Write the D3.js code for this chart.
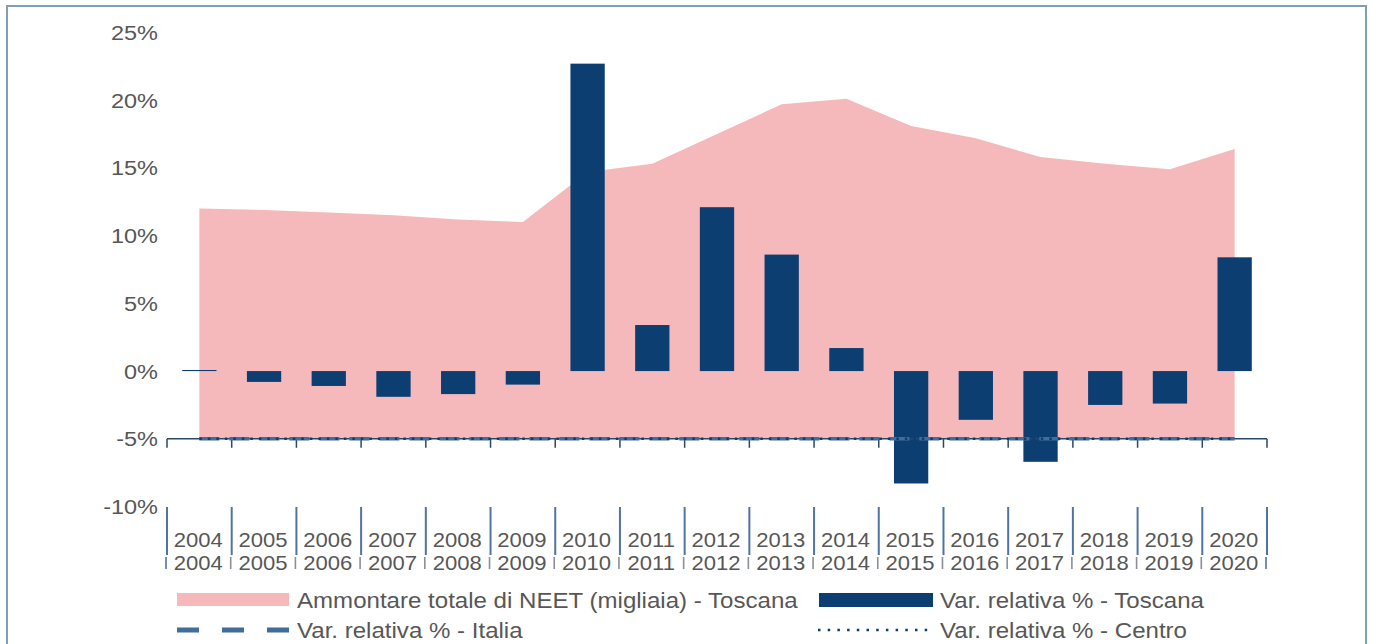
<!doctype html>
<html lang="it">
<head>
    <meta charset="utf-8">
    <title>NEET Toscana</title>
    <style>
        body { margin: 0; background: #ffffff; }
        svg text { font-family: "Liberation Sans", Arial, sans-serif; }
    </style>
</head>
<body>
<svg width="1373" height="644" id="chart"></svg>

<script src="https://cdn.jsdelivr.net/npm/d3@7"></script>
<script>
    // valori
    const years = ["2004", "2005", "2006", "2007", "2008", "2009", "2010", "2011", "2012",
        "2013", "2014", "2015", "2016", "2017", "2018", "2019", "2020"];
    const neetToscana = [12.0, 11.9, 11.7, 11.5, 11.2, 11.0, 14.7, 15.3, 17.5, 19.7, 20.1, 18.1, 17.2, 15.8, 15.3, 14.9, 16.4];
    const varToscana = [0.08, -0.8, -1.1, -1.9, -1.7, -1.0, 22.7, 3.4, 12.1, 8.6, 1.7, -8.3, -3.6, -6.7, -2.5, -2.4, 8.4];
    const varItalia = [-5, -5, -5, -5, -5, -5, -5, -5, -5, -5, -5, -5, -5, -5, -5, -5, -5];
    const varCentro = [-5, -5, -5, -5, -5, -5, -5, -5, -5, -5, -5, -5, -5, -5, -5, -5, -5];
    const yTicks = [-10, -5, 0, 5, 10, 15, 20, 25];

    const pink = "#f5b9bb";
    const navy = "#0c3e72";
    const steel = "#416d99";
    const grey = "#575757";

    const svg = d3.select("#chart");

    // testo un po' allargato come nel grafico originale
    function label(g, px, py, txt, size, sx, anchor) {
        return g.append("text")
            .attr("transform", "translate(" + px + "," + py + ") scale(" + sx + ",1)")
            .attr("text-anchor", anchor || "start")
            .style("font-size", size + "px")
            .style("fill", grey)
            .text(txt);
    }

    // cornice
    svg.append("rect")
        .attr("x", 7)
        .attr("y", 6)
        .attr("width", 1359)
        .attr("height", 660)
        .attr("fill", "#ffffff")
        .attr("stroke", "#7f9fb4")
        .attr("stroke-width", 2);

    const x = d3.scaleBand()
        .domain(years)
        .range([167, 1267])
        .padding(0);

    const y = d3.scaleLinear()
        .domain([-10, 25])
        .range([506.5, 32.5]);

    const cx = d => x(d) + x.bandwidth() / 2;
    const barW = x.bandwidth() * 0.53;
    const base = y(-5);

    // area NEET
    const area = d3.area()
        .x((d, i) => cx(years[i]))
        .y0(base)
        .y1(d => y(d));

    svg.append("path")
        .datum(neetToscana)
        .attr("fill", pink)
        .attr("d", area);

    // barre var. Toscana
    svg.append("g")
        .selectAll("rect")
        .data(varToscana)
        .enter().append("rect")
        .attr("x", (d, i) => cx(years[i]) - barW / 2)
        .attr("y", d => y(Math.max(0, d)))
        .attr("width", barW)
        .attr("height", d => Math.abs(y(d) - y(0)))
        .attr("fill", navy);

    // asse categorie a -5%
    const gx = svg.append("g")
        .attr("transform", "translate(0," + base + ")");
    gx.append("line")
        .attr("x1", 167).attr("x2", 1267)
        .attr("stroke", "#2b4766")
        .attr("stroke-width", 1.5);
    gx.selectAll(".tk")
        .data(years.concat(["end"]))
        .enter().append("line")
        .attr("class", "tk")
        .attr("x1", (d, i) => 167 + i * x.bandwidth())
        .attr("x2", (d, i) => 167 + i * x.bandwidth())
        .attr("y1", 0).attr("y2", 9)
        .attr("stroke", "#2b4766")
        .attr("stroke-width", 1.5);

    // linee Italia e Centro
    const line = d3.line()
        .x((d, i) => cx(years[i]))
        .y(d => y(d));

    svg.append("path")
        .datum(varItalia)
        .attr("fill", "none")
        .attr("stroke", steel)
        .attr("stroke-width", 3.5)
        .attr("stroke-dasharray", "20,10")
        .attr("d", line);

    svg.append("path")
        .datum(varCentro)
        .attr("fill", "none")
        .attr("stroke", navy)
        .attr("stroke-width", 2.5)
        .attr("stroke-dasharray", "2.5,6")
        .attr("d", line);

    // asse y
    const gy = svg.append("g");
    yTicks.forEach(t => {
        label(gy, 158, y(t) + 7.5, t + "%", 21, 1.12, "end");
    });

    // etichette a due livelli
    const sep = svg.append("g");
    sep.selectAll(".up")
        .data(years.concat(["end"]))
        .enter().append("line")
        .attr("x1", (d, i) => 167 + i * x.bandwidth())
        .attr("x2", (d, i) => 167 + i * x.bandwidth())
        .attr("y1", 507).attr("y2", 555)
        .attr("stroke", "#5074a2")
        .attr("stroke-width", 2);
    sep.selectAll(".low")
        .data(years.concat(["end"]))
        .enter().append("line")
        .attr("x1", (d, i) => 166 + i * x.bandwidth())
        .attr("x2", (d, i) => 166 + i * x.bandwidth())
        .attr("y1", 557).attr("y2", 569)
        .attr("stroke", (d, i) => (i === 0 || i === years.length) ? "#5074a2" : "#8b8f96")
        .attr("stroke-width", 1.6);

    const gYears = svg.append("g");
    [547, 570].forEach(by => {
        years.forEach(d => label(gYears, cx(d) - 1, by, d, 21, 1.05, "middle"));
    });

    // legenda
    const leg = svg.append("g");
    leg.append("rect")
        .attr("x", 177).attr("y", 593).attr("width", 112).attr("height", 13)
        .attr("fill", pink);
    label(leg, 297, 607.5, "Ammontare totale di NEET (migliaia) - Toscana", 21.5, 1.12);

    leg.append("rect")
        .attr("x", 819).attr("y", 593).attr("width", 114).attr("height", 14)
        .attr("fill", navy);
    label(leg, 940, 607.5, "Var. relativa % - Toscana", 21.5, 1.12);

    leg.append("line")
        .attr("x1", 177).attr("x2", 289).attr("y1", 630).attr("y2", 630)
        .attr("stroke", steel).attr("stroke-width", 5)
        .attr("stroke-dasharray", "22,23");
    label(leg, 297, 637.5, "Var. relativa % - Italia", 21.5, 1.12);

    leg.append("line")
        .attr("x1", 818).attr("x2", 933).attr("y1", 630).attr("y2", 630)
        .attr("stroke", navy).attr("stroke-width", 2.5)
        .attr("stroke-dasharray", "2.5,7.2");
    label(leg, 940, 637.5, "Var. relativa % - Centro", 21.5, 1.12);
</script>
</body>
</html>
